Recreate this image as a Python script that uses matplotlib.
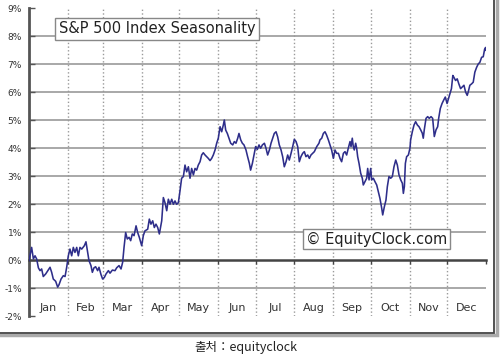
import matplotlib.pyplot as plt
import numpy as np
from matplotlib.patches import Rectangle
from matplotlib.transforms import blended_transform_factory

# 월 / 축 정보
months = ['Jan', 'Feb', 'Mar', 'Apr', 'May', 'Jun',
          'Jul', 'Aug', 'Sep', 'Oct', 'Nov', 'Dec']
month_days = [31, 28, 31, 30, 31, 30, 31, 31, 30, 31, 30, 31]
y_ticks = list(range(-2, 10))
y_labels = ['%d%%' % v for v in y_ticks]

# 계절성 곡선 (day of year, %) - 그림에서 읽은 값
jan_apr_days = [0, 2.1, 3.5, 4.8, 6.1, 7.5, 8.8, 10.1, 11.4, 13.3,
                15.4, 16.8, 18.1, 19.4, 21.3, 22.9, 24.0, 25.6, 27.4, 28.8,
                30.1, 31.4, 32.7, 34.1, 35.4, 36.7, 38.1, 39.4, 40.7, 42.1,
                44.2, 45.5, 46.9, 47.9, 49.5, 50.6, 51.9, 53.2, 54.8, 55.9,
                57.5, 58.8, 60.2, 61.5, 63.4, 64.7, 66.6, 68.7, 70.0, 71.9,
                73.5, 74.8, 75.9, 77.2, 78.5, 79.9, 81.2, 82.5, 83.9, 85.5,
                86.8, 88.1, 90.0, 91.3, 92.6, 94.8, 96.1, 97.4, 98.8, 100.1,
                101.4, 102.8, 104.1, 106.0, 107.3, 108.6, 110.0, 111.3, 112.6, 114.0,
                115.3, 116.6, 117.9, 119.3, 120.6]
jan_apr_pct = [-0.02, 0.45, 0.04, 0.15, 0.04, -0.28, -0.38, -0.32, -0.59, -0.50,
               -0.36, -0.26, -0.44, -0.68, -0.76, -0.97, -0.88, -0.68, -0.56, -0.59,
               -0.26, 0.15, 0.39, 0.15, 0.45, 0.27, 0.45, 0.15, 0.45, 0.39,
               0.51, 0.65, 0.27, -0.02, -0.20, -0.44, -0.28, -0.24, -0.38, -0.26,
               -0.52, -0.68, -0.62, -0.50, -0.38, -0.47, -0.36, -0.38, -0.28, -0.20,
               -0.32, -0.08, 0.45, 0.98, 0.75, 0.81, 0.69, 0.93, 0.87, 1.22,
               0.98, 0.81, 0.51, 0.87, 1.04, 1.10, 1.46, 1.28, 1.40, 1.16,
               1.28, 1.16, 0.93, 1.40, 2.23, 2.05, 1.76, 2.17, 1.99, 2.17,
               1.99, 2.11, 1.99, 2.05, 2.47]

may_aug_days = [121.9, 123.3, 124.6, 125.9, 127.3, 128.6, 129.9, 131.3, 132.6, 133.9,
                135.2, 136.6, 137.9, 139.2, 140.6, 141.9, 143.2, 144.6, 145.9, 147.2,
                148.6, 149.9, 151.2, 152.6, 153.9, 155.2, 156.0, 157.1, 158.4, 159.7,
                161.1, 162.7, 164.0, 165.3, 166.7, 167.7, 169.1, 170.4, 171.7, 173.3,
                174.6, 176.0, 177.0, 178.4, 179.7, 181.0, 182.4, 183.7, 185.0, 186.4,
                188.0, 189.3, 190.6, 192.0, 193.3, 194.6, 195.9, 197.3, 198.6, 199.9,
                201.3, 202.6, 203.9, 205.3, 206.6, 207.9, 209.3, 210.6, 211.9, 213.3,
                214.6, 215.9, 217.2, 218.6, 219.9, 221.2, 222.6, 223.9, 225.2, 226.6,
                227.9, 229.8, 231.6]
may_aug_pct = [2.92, 2.98, 3.39, 3.15, 3.33, 2.92, 3.27, 3.04, 3.27, 3.21,
               3.39, 3.51, 3.75, 3.83, 3.75, 3.69, 3.63, 3.55, 3.63, 3.75,
               3.93, 4.17, 4.35, 4.76, 4.58, 4.82, 5.00, 4.64, 4.52, 4.35,
               4.17, 4.11, 4.23, 4.17, 4.35, 4.52, 4.29, 4.17, 4.11, 3.93,
               3.69, 3.45, 3.21, 3.45, 3.75, 4.05, 3.95, 4.11, 3.99, 4.11,
               4.17, 3.99, 3.75, 3.93, 4.17, 4.35, 4.52, 4.58, 4.40, 4.11,
               3.93, 3.69, 3.33, 3.51, 3.75, 3.57, 3.81, 4.05, 4.31, 4.23,
               4.05, 3.51, 3.69, 3.81, 3.87, 3.69, 3.75, 3.63, 3.75, 3.81,
               3.87, 4.05, 4.17]

aug_oct_days = [232.4, 233.8, 235.1, 236.4, 237.7, 239.1, 240.4, 241.7, 243.1, 244.4,
                245.7, 247.1, 248.4, 249.7, 251.1, 252.4, 253.7, 255.0, 256.4, 257.2,
                258.2, 259.0, 259.8, 260.9, 261.7, 262.5, 263.6, 264.9, 266.2, 267.0,
                268.4, 269.7, 270.5, 271.6, 272.9, 273.7, 275.0, 276.3, 277.7, 279.0,
                280.3, 281.7, 282.5, 283.8, 285.1, 286.2, 287.5, 288.9, 290.2, 291.5,
                292.9, 294.2, 295.5, 296.9, 298.2, 299.0, 299.8, 300.6, 301.6, 303.0]
aug_oct_pct = [4.29, 4.35, 4.52, 4.58, 4.46, 4.29, 4.11, 3.93, 3.63, 3.93,
               3.81, 3.81, 3.63, 3.51, 3.81, 3.87, 3.75, 3.99, 4.23, 4.05,
               4.35, 4.05, 3.93, 4.17, 3.99, 3.69, 3.45, 3.10, 2.92, 2.68,
               2.80, 2.92, 3.27, 2.86, 3.27, 2.86, 2.92, 2.80, 2.68, 2.44,
               2.20, 1.85, 1.61, 1.90, 2.14, 2.62, 2.98, 2.92, 2.98, 3.33,
               3.57, 3.39, 3.04, 2.86, 2.74, 2.38, 2.62, 3.45, 3.69, 3.75]

nov_dec_days = [304.3, 304.8, 306.2, 307.5, 308.8, 310.2, 311.5, 312.8, 314.1, 314.9,
                315.7, 317.1, 318.4, 319.7, 321.1, 322.4, 323.2, 323.7, 325.1, 326.4,
                327.2, 328.5, 329.9, 331.2, 332.5, 333.9, 334.7, 335.8, 337.4, 338.5,
                339.3, 340.7, 342.0, 343.3, 344.7, 346.0, 347.4, 348.7, 350.0, 350.8,
                352.1, 353.5, 354.8, 356.1, 357.5, 358.8, 360.1, 361.5, 362.8, 363.9,
                364.7, 365.0]
nov_dec_pct = [4.00, 4.29, 4.59, 4.82, 4.94, 4.82, 4.76, 4.65, 4.53, 4.35,
               4.65, 5.06, 5.12, 5.06, 5.12, 5.06, 4.65, 4.41, 4.65, 4.76,
               5.06, 5.41, 5.59, 5.71, 5.82, 5.59, 5.71, 5.88, 6.12, 6.59,
               6.53, 6.41, 6.47, 6.29, 6.12, 6.18, 6.24, 6.00, 5.88, 6.00,
               6.24, 6.29, 6.35, 6.71, 6.88, 7.00, 7.06, 7.24, 7.26, 7.53,
               7.59, 7.49]

days = np.concatenate([jan_apr_days, may_aug_days, aug_oct_days, nov_dec_days])
pct = np.concatenate([jan_apr_pct, may_aug_pct, aug_oct_pct, nov_dec_pct])

W, H = 500, 362
fig = plt.figure(figsize=(W / 100, H / 100), dpi=100)

# 바깥 테두리 + 그림자
fig.patches.append(Rectangle((-0.02, 1 - 335 / H), 0.02 + 497 / W, 0.1 + 335 / H,
                             transform=fig.transFigure, fill=False,
                             ec='#aaaaaa', lw=2.5))
fig.patches.append(Rectangle((-0.02, 1 - 332.5 / H), 0.02 + 494.5 / W, 0.1 + 332.5 / H,
                             transform=fig.transFigure, fill=False,
                             ec='#444444', lw=1.3))

ax = fig.add_axes([29 / W, 1 - 316 / H, 457 / W, 308 / H])
ax.set_xlim(0, 365)
ax.set_ylim(-2, 9)

bounds = np.cumsum(month_days)
mids = bounds - np.array(month_days) / 2

# 격자
ax.hlines([v for v in y_ticks if v not in (-2, 0, 9)], 0, 365,
          color='#9a9a9a', lw=1.2, zorder=1)
ax.vlines(bounds[:-1], -2, 9, color='#9a9a9a', lw=1, linestyles=':', zorder=1)

ax.plot(days, pct, color='#2e2e8a', lw=1.15, zorder=3)

# 축
for s in ['top', 'right']:
    ax.spines[s].set_visible(False)
ax.spines['left'].set_color('#555555')
ax.spines['left'].set_linewidth(2)
ax.spines['bottom'].set_position(('data', 0))
ax.spines['bottom'].set_color('#444444')
ax.spines['bottom'].set_linewidth(1.8)
ax.set_yticks(y_ticks)
ax.set_yticklabels(y_labels)
ax.tick_params(axis='y', direction='in', length=4, width=1, color='#555555',
               labelsize=6.5, labelcolor='#333333', pad=5)
ax.set_xticks(bounds)
ax.set_xticklabels([])
ax.tick_params(axis='x', direction='out', length=3, width=1, color='#444444')

trans = blended_transform_factory(ax.transData, ax.transAxes)
for m, x in zip(months, mids):
    ax.text(x, 0.026, m, transform=trans, ha='center', va='center',
            fontsize=8, color='#333333')

ax.text(0.0656, 0.932, 'S&P 500 Index Seasonality', transform=ax.transAxes,
        ha='left', va='center', fontsize=10.5, color='#222222', zorder=5,
        bbox=dict(boxstyle='square,pad=0.25', fc='white', ec='#888888', lw=1))
ax.text(0.761, 0.25, '© EquityClock.com', transform=ax.transAxes,
        ha='center', va='center', fontsize=10.5, color='#222222', zorder=5,
        bbox=dict(boxstyle='square,pad=0.2', fc='white', ec='#888888', lw=1))

fig.text(246 / W, 1 - 348 / H, '출처：equityclock', ha='center', va='center',
         fontsize=9, color='#222222', family=['Noto Sans CJK KR', 'DejaVu Sans'])

fig.savefig('out.png', dpi=100)
